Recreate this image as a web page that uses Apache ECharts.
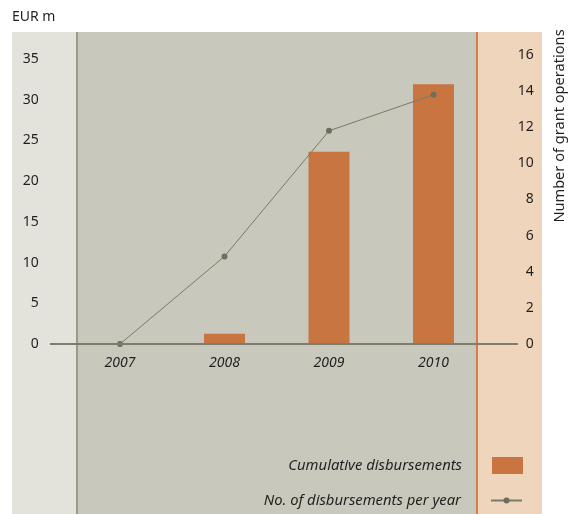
<!DOCTYPE html>
<html>
<head>
<meta charset="utf-8">
<script src="https://cdn.jsdelivr.net/npm/echarts@6/dist/echarts.min.js"></script>
<style>
html,body{margin:0;padding:0;background:#fff;}
#c{width:573px;height:514px;}
</style>
</head>
<body>
<div id="c"></div>
<script>
const categories = ['2007', '2008', '2009', '2010'];
const disbursements = [0, 1.25, 23.6, 31.9];
const operations = [0, 4.85, 11.8, 13.8];
const leftTicksMax = 38.3;
const rightTicksMax = 17.27;
const barName = 'Cumulative disbursements';
const lineName = 'No. of disbursements per year';

const FONT = 'Noto Sans';
const TXT = '#231f20';

const chart = echarts.init(document.getElementById('c'));
chart.setOption({
  animation: false,
  backgroundColor: '#ffffff',
  title: {
    text: 'EUR m', left: 12, top: 10, padding: 0,
    textStyle: {fontFamily: FONT, fontSize: 14, fontWeight: 'normal', color: TXT}
  },
  grid: {left: 67.75, right: 87.25, top: 32, bottom: 170, containLabel: false},
  graphic: [
    {type: 'rect', z: -10, shape: {x: 12, y: 32, width: 65, height: 482}, style: {fill: '#e3e3db'}},
    {type: 'rect', z: -10, shape: {x: 77, y: 32, width: 400, height: 482}, style: {fill: '#c8c8bc'}},
    {type: 'rect', z: -10, shape: {x: 477, y: 32, width: 65, height: 482}, style: {fill: '#eed5bb'}},
    {type: 'line', z: -5, shape: {x1: 77, y1: 32, x2: 77, y2: 514}, style: {stroke: '#9a9a88', lineWidth: 2}},
    {type: 'line', z: -5, shape: {x1: 477, y1: 32, x2: 477, y2: 514}, style: {stroke: '#d0622a', lineWidth: 1.5}},
    {type: 'line', z: 50, shape: {x1: 50, y1: 344, x2: 518, y2: 344}, style: {stroke: '#7d7d6c', lineWidth: 2}},
    {type: 'text', z: 50, x: 560, y: 126, rotation: Math.PI / 2,
      style: {text: 'Number of grant operations', fontFamily: FONT, fontSize: 14.6, fill: TXT, textAlign: 'center', textVerticalAlign: 'middle'}}
  ],
  legend: [
    {data: [barName], icon: 'rect', right: 50, top: 457, padding: 0, align: 'right', itemWidth: 31, itemHeight: 17,
      textStyle: {fontFamily: FONT, fontSize: 14.8, fontStyle: 'italic', color: TXT, padding: [0, 25, 0, 0]}},
    {data: [lineName], right: 50, top: 493, padding: 0, align: 'right', itemWidth: 31, itemHeight: 7.5,
      textStyle: {fontFamily: FONT, fontSize: 14.8, fontStyle: 'italic', color: TXT, padding: [0, 25, 0, 0]}}
  ],
  xAxis: {
    type: 'category', data: categories, boundaryGap: true,
    axisLine: {show: false}, axisTick: {show: false}, splitLine: {show: false},
    axisLabel: {margin: 12, fontFamily: FONT, fontSize: 14, fontStyle: 'italic', color: TXT}
  },
  yAxis: [
    {type: 'value', min: 0, max: leftTicksMax, interval: 5,
      axisLine: {show: false}, axisTick: {show: false}, splitLine: {show: false},
      axisLabel: {showMaxLabel: false, margin: 29, fontFamily: FONT, fontSize: 14, color: TXT}},
    {type: 'value', position: 'right', min: 0, max: rightTicksMax, interval: 2,
      axisLine: {show: false}, axisTick: {show: false}, splitLine: {show: false},
      axisLabel: {showMaxLabel: false, align: 'right', margin: 48, fontFamily: FONT, fontSize: 14, color: TXT}}
  ],
  series: [
    {name: barName, type: 'bar', yAxisIndex: 0, data: disbursements, barWidth: 41,
      itemStyle: {color: '#c87541'}, z: 2},
    {name: lineName, type: 'line', yAxisIndex: 1, data: operations,
      symbol: 'circle', symbolSize: 6, showSymbol: true,
      lineStyle: {color: '#7a7a6a', width: 1}, itemStyle: {color: '#6e6e5f'}, z: 3}
  ]
});
</script>
</body>
</html>
